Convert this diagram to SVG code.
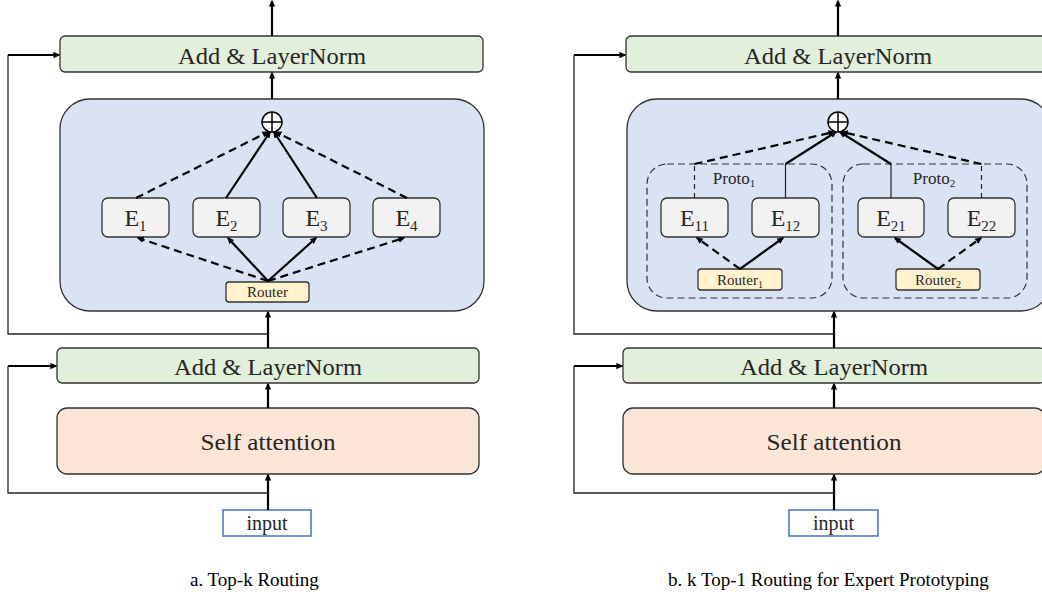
<svg xmlns="http://www.w3.org/2000/svg" width="1042" height="596" viewBox="0 0 1042 596">
<defs>
<marker id="ah" viewBox="0 0 10 10" refX="8" refY="5" markerWidth="7" markerHeight="7" markerUnits="userSpaceOnUse" orient="auto"><path d="M0,0.5 L10,5 L0,9.5 z" fill="#000"/></marker>
<style>
.t{font-family:"Liberation Serif","Times New Roman",serif;fill:#262626}
.norm{fill:#e2efda;stroke:#333;stroke-width:1.3}
.moe{fill:#dae3f3;stroke:#333;stroke-width:1.3}
.att{fill:#fbe5d6;stroke:#333;stroke-width:1.3}
.exp{fill:#f2f2f2;stroke:#333;stroke-width:1.3}
.rt{fill:#fff2cc;stroke:#333;stroke-width:1.3}
.inp{fill:#fff;stroke:#4472c4;stroke-width:1.5}
.proto{fill:none;stroke:#333;stroke-width:1.2;stroke-dasharray:7,4}
.sum{fill:#fff;stroke:#000;stroke-width:1.5}
.thin{fill:none;stroke:#222;stroke-width:1.3}
.thick{fill:none;stroke:#000;stroke-width:2.2}
.arr{fill:none;stroke:#000;stroke-width:2.2;marker-end:url(#ah)}
.dash{fill:none;stroke:#000;stroke-width:2.2;stroke-dasharray:8,5;marker-end:url(#ah)}
.tdash{fill:none;stroke:#222;stroke-width:1.2;stroke-dasharray:5,4}
.tsol{fill:none;stroke:#222;stroke-width:1.2}
.lbig{font-size:24px}
.le{font-size:24px}
.sub{font-size:15px}
.cap{font-family:"Liberation Serif","Times New Roman",serif;font-size:19px;fill:#000}
</style>
</defs>

<!-- ===== Left panel (a) ===== -->
<g id="a-moe"><rect class="moe" x="60" y="99" width="424" height="212" rx="30"/></g>
<g id="a-norm-top"><rect class="norm" x="60" y="36" width="423" height="36" rx="5"/><text class="t lbig" x="272" y="64" text-anchor="middle" textLength="188" lengthAdjust="spacingAndGlyphs">Add &amp; LayerNorm</text></g>
<g id="a-norm-bot"><rect class="norm" x="57" y="348" width="422" height="35" rx="5"/><text class="t lbig" x="268" y="375" text-anchor="middle" textLength="188" lengthAdjust="spacingAndGlyphs">Add &amp; LayerNorm</text></g>
<g id="a-attn"><rect class="att" x="57" y="408" width="422" height="66" rx="10"/><text class="t lbig" x="268" y="450" text-anchor="middle" textLength="135" lengthAdjust="spacingAndGlyphs">Self attention</text></g>
<g id="a-input"><rect class="inp" x="223" y="510" width="88" height="26"/><text class="t" x="267" y="530" text-anchor="middle" font-size="20">input</text></g>
<g id="a-sum"><circle class="sum" cx="272" cy="122" r="10"/><path class="thick" style="stroke-width:1.5" d="M262,122 H282 M272,112 V132"/></g>
<g id="a-e1"><rect class="exp" x="102" y="198" width="67" height="39" rx="6"/><text class="t le" x="135.5" y="226" text-anchor="middle">E<tspan class="sub" dy="5">1</tspan></text></g>
<g id="a-e2"><rect class="exp" x="193" y="198" width="67" height="39" rx="6"/><text class="t le" x="226.5" y="226" text-anchor="middle">E<tspan class="sub" dy="5">2</tspan></text></g>
<g id="a-e3"><rect class="exp" x="283" y="198" width="67" height="39" rx="6"/><text class="t le" x="316.5" y="226" text-anchor="middle">E<tspan class="sub" dy="5">3</tspan></text></g>
<g id="a-e4"><rect class="exp" x="373" y="198" width="67" height="39" rx="6"/><text class="t le" x="406.5" y="226" text-anchor="middle">E<tspan class="sub" dy="5">4</tspan></text></g>
<g id="a-router"><rect class="rt" x="226" y="282" width="83" height="20" rx="3"/><text class="t" x="267.5" y="297" text-anchor="middle" font-size="15">Router</text></g>

<!-- ===== Right panel (b) ===== -->
<g id="b-moe"><rect class="moe" x="627" y="99" width="424" height="212" rx="30"/></g>
<g id="b-norm-top"><rect class="norm" x="626" y="36" width="423" height="36" rx="5"/><text class="t lbig" x="838" y="64" text-anchor="middle" textLength="188" lengthAdjust="spacingAndGlyphs">Add &amp; LayerNorm</text></g>
<g id="b-norm-bot"><rect class="norm" x="623" y="348" width="422" height="35" rx="5"/><text class="t lbig" x="834" y="375" text-anchor="middle" textLength="188" lengthAdjust="spacingAndGlyphs">Add &amp; LayerNorm</text></g>
<g id="b-attn"><rect class="att" x="623" y="408" width="422" height="66" rx="10"/><text class="t lbig" x="834" y="450" text-anchor="middle" textLength="135" lengthAdjust="spacingAndGlyphs">Self attention</text></g>
<g id="b-input"><rect class="inp" x="789" y="510" width="89" height="26"/><text class="t" x="833.5" y="530" text-anchor="middle" font-size="20">input</text></g>
<g id="b-proto1"><rect class="proto" x="647" y="164" width="185" height="134" rx="20"/><text class="t" x="734" y="184" text-anchor="middle" font-size="17">Proto<tspan font-size="11" dy="3">1</tspan></text></g>
<g id="b-proto2"><rect class="proto" x="843" y="164" width="184" height="134" rx="20"/><text class="t" x="934" y="184" text-anchor="middle" font-size="17">Proto<tspan font-size="11" dy="3">2</tspan></text></g>
<g id="b-sum"><circle class="sum" cx="838" cy="122" r="10"/><path class="thick" style="stroke-width:1.5" d="M828,122 H848 M838,112 V132"/></g>
<g id="b-e11"><rect class="exp" x="661" y="198" width="67" height="39" rx="6"/><text class="t le" x="694.5" y="226" text-anchor="middle">E<tspan class="sub" dy="5">11</tspan></text></g>
<g id="b-e12"><rect class="exp" x="752" y="198" width="67" height="39" rx="6"/><text class="t le" x="785.5" y="226" text-anchor="middle">E<tspan class="sub" dy="5">12</tspan></text></g>
<g id="b-e21"><rect class="exp" x="858" y="198" width="66" height="39" rx="6"/><text class="t le" x="891" y="226" text-anchor="middle">E<tspan class="sub" dy="5">21</tspan></text></g>
<g id="b-e22"><rect class="exp" x="948" y="198" width="67" height="39" rx="6"/><text class="t le" x="981.5" y="226" text-anchor="middle">E<tspan class="sub" dy="5">22</tspan></text></g>
<g id="b-router1"><rect class="rt" x="698" y="269" width="84" height="21" rx="3"/><text class="t" x="740" y="285" text-anchor="middle" font-size="15">Router<tspan font-size="10" dy="3">1</tspan></text></g>
<g id="b-router2"><rect class="rt" x="896" y="269" width="84" height="21" rx="3"/><text class="t" x="938" y="285" text-anchor="middle" font-size="15">Router<tspan font-size="10" dy="3">2</tspan></text></g>

<!-- ===== Connectors ===== -->
<g id="connectors">
  <!-- left main flow -->
  <path class="arr" d="M268,510 V475"/>
  <path class="arr" d="M268,408 V384"/>
  <path class="arr" d="M268,348 V312"/>
  <path class="arr" d="M272,99 V73"/>
  <path class="arr" d="M272,36 V1"/>
  <!-- left residuals -->
  <path class="thin" d="M268,493 H8 V366"/>
  <path class="arr" d="M8,366 H56"/>
  <path class="thin" d="M268,334 H8 V55"/>
  <path class="arr" d="M8,55 H59"/>
  <!-- left router to experts -->
  <path class="dash" d="M268,281 L138,238"/>
  <path class="arr" d="M268,281 L228,238"/>
  <path class="arr" d="M268,281 L316,238"/>
  <path class="dash" d="M268,281 L404,238"/>
  <!-- left experts to sum -->
  <path class="dash" d="M136,198 L268,132"/>
  <path class="arr" d="M226,198 L270,132"/>
  <path class="arr" d="M317,198 L274,132"/>
  <path class="dash" d="M407,198 L276,132"/>

  <!-- right main flow -->
  <path class="arr" d="M834,510 V475"/>
  <path class="arr" d="M834,408 V384"/>
  <path class="arr" d="M834,348 V312"/>
  <path class="arr" d="M838,99 V73"/>
  <path class="arr" d="M838,36 V1"/>
  <!-- right residuals -->
  <path class="thin" d="M834,493 H574 V366"/>
  <path class="arr" d="M574,366 H622"/>
  <path class="thin" d="M834,334 H574 V55"/>
  <path class="arr" d="M574,55 H625"/>
  <!-- right routers to experts -->
  <path class="dash" d="M740,269 L697,238"/>
  <path class="arr" d="M740,269 L783,238"/>
  <path class="arr" d="M938,269 L895,238"/>
  <path class="dash" d="M938,269 L981,238"/>
  <!-- right experts to sum -->
  <path class="tdash" d="M694.5,198 V164"/>
  <path class="tsol" d="M785.5,198 V164"/>
  <path class="tsol" d="M891,198 V164"/>
  <path class="tdash" d="M981.5,198 V164"/>
  <path class="dash" d="M694.5,164 L834,132"/>
  <path class="arr" d="M785.5,164 L836,132"/>
  <path class="arr" d="M891,164 L840,132"/>
  <path class="dash" d="M981.5,164 L842,132"/>
</g>

<g id="captions">
  <text class="cap" x="190" y="586">a. Top-k Routing</text>
  <text class="cap" x="668" y="586">b. k Top-1 Routing for Expert Prototyping</text>
</g>
</svg>
